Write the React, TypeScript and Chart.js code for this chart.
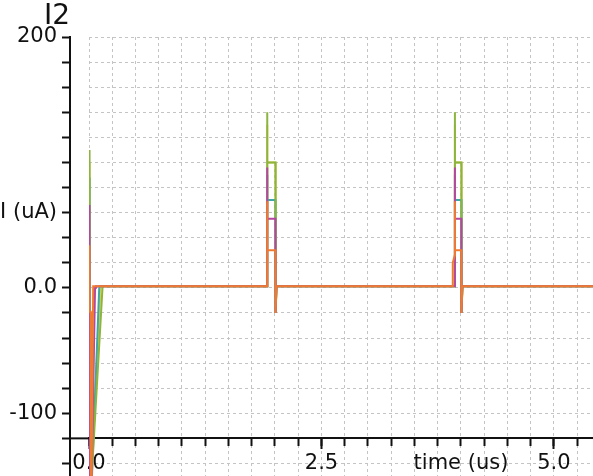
import React, { useEffect, useRef } from 'react';
import { Chart, registerables } from 'chart.js';

Chart.register(...registerables);

const FONT = "'DejaVu Sans', Verdana, sans-serif";

// time in us, current in uA
const orangeTime = [0, 0.004, 0.018, 0.021, 0.045, 1.917, 1.917, 1.917, 2.005, 2.006, 2.016, 3.911, 3.912, 3.933, 3.935, 3.935, 4.004, 4.005, 4.015, 5.42];
const orangeCurrent = [34, -19, -19, -220, 1.3, 1.3, 69, 30, 30, -20, 1.3, 1.3, 20, 26, 69, 30, 30, -20, 1.3, 1.3];

const magentaTime = [0, 0.005, 0.065, 0.075, 1.917, 1.917, 1.917, 2.005, 2.006, 2.016, 3.935, 3.935, 3.935, 4.004, 4.005, 4.015, 5.42];
const magentaCurrent = [66, -250, 0, 1.3, 1.3, 96, 55, 55, -20, 1.3, 1.3, 96, 55, 55, -20, 1.3, 1.3];

const greenTime = [0, 0.006, 0.145, 0.155, 1.917, 1.917, 1.917, 2.006, 2.007, 2.017, 3.935, 3.935, 3.935, 4.005, 4.006, 4.016, 5.42];
const greenCurrent = [110, -180, 0, 1.3, 1.3, 140, 100, 100, -20, 1.3, 1.3, 140, 100, 100, -20, 1.3, 1.3];

const tealTime = [0, 0.006, 0.11, 0.12, 1.917, 1.917, 1.917, 2.005, 2.006, 2.016, 3.935, 3.935, 3.935, 4.005, 4.006, 4.016, 5.42];
const tealCurrent = [88, -200, 0, 1.3, 1.3, 90, 70, 70, -20, 1.3, 1.3, 90, 70, 70, -20, 1.3, 1.3];

const yellowTime = [0, 0.006, 0.125, 0.135, 1.917, 1.917, 1.917, 2.005, 2.006, 2.016, 3.935, 3.935, 3.935, 4.005, 4.006, 4.016, 5.42];
const yellowCurrent = [100, -170, 0, 1.3, 1.3, 130, 100, 100, -20, 1.3, 1.3, 130, 100, 100, -20, 1.3, 1.3];

// axis ranges and labels
const xMin = 0;
const xMax = 5.42;
const yMin = -150;
const yMax = 200;
const xAxisAt = -120;
const yLabelValues = [200, 0, -100, 60];
const yLabelTexts = ['200', '0.0', '-100', 'I (uA)'];
const xLabelValues = [0, 2.5, 5.0];
const xLabelTexts = ['0.0', '2.5', '5.0'];
const xTitleValue = 4.0;
const xTitleText = 'time (us)';
const chartTitle = 'I2';

const pick = (v: number, values: number[], texts: string[]) => {
  for (let i = 0; i < values.length; i++) {
    if (Math.abs(v - values[i]) < 1e-6) return texts[i];
  }
  return '';
};

const zeroPad = (s: any) => {
  s.paddingLeft = 0;
  s.paddingRight = 0;
  s.paddingTop = 0;
  s.paddingBottom = 0;
};

const toPoints = (t: number[], v: number[]) => t.map((x, i) => ({ x, y: v[i] }));

const GRID = '#c4c4c4';
const BLACK = '#111111';

const decorPlugin = {
  id: 'decor',
  afterDraw(chart: any) {
    const ctx = chart.ctx;
    const yAxis = chart.scales.yAxis;
    const y = chart.scales.y;
    const area = chart.chartArea;
    ctx.save();
    // extension of the time axis line to the current axis
    const py = y.getPixelForValue(xAxisAt);
    ctx.strokeStyle = BLACK;
    ctx.lineWidth = 2;
    ctx.beginPath();
    ctx.moveTo(yAxis.right, py);
    ctx.lineTo(area.left, py);
    ctx.stroke();
    // signal name
    ctx.fillStyle = BLACK;
    ctx.font = `28px ${FONT}`;
    ctx.textAlign = 'right';
    ctx.textBaseline = 'middle';
    ctx.fillText(chartTitle, yAxis.right, area.top - 20);
    ctx.restore();
  },
};

export default function App() {
  const ref = useRef<HTMLCanvasElement | null>(null);

  useEffect(() => {
    document.body.style.margin = '0';
    const canvas = ref.current;
    if (!canvas) return;
    const mk = (label: string, color: string, t: number[], v: number[]) => ({
      label,
      data: toPoints(t, v),
      borderColor: color,
      backgroundColor: color,
      borderWidth: 2,
      pointRadius: 0,
      tension: 0,
      fill: false,
    });
    const chart = new Chart(canvas, {
      type: 'line',
      data: {
        datasets: [
          mk('orange', '#ef7b33', orangeTime, orangeCurrent),
          mk('magenta', '#b4479f', magentaTime, magentaCurrent),
          mk('green', '#8cb43e', greenTime, greenCurrent),
          mk('teal', '#3fa8a6', tealTime, tealCurrent),
          mk('yellow', '#d4d048', yellowTime, yellowCurrent),
        ] as any,
      },
      options: {
        responsive: false,
        animation: false,
        events: [],
        layout: { padding: { left: 0, top: 37, right: 0, bottom: 0 } },
        plugins: {
          legend: { display: false },
          tooltip: { enabled: false },
          title: { display: false },
        },
        scales: {
          x: {
            type: 'linear',
            axis: 'x',
            min: xMin,
            max: xMax,
            position: { y: xAxisAt } as any,
            grid: {
              display: true,
              color: GRID,
              lineWidth: 1,
              drawOnChartArea: true,
              drawTicks: true,
              tickLength: 7,
              tickColor: BLACK,
              tickWidth: 2,
            },
            border: { display: true, color: BLACK, width: 2, dash: [3, 3] },
            ticks: {
              stepSize: 0.25,
              includeBounds: false,
              autoSkip: false,
              maxRotation: 0,
              minRotation: 0,
              padding: 5.4,
              color: BLACK,
              font: { family: FONT, size: 21 },
              callback: (v: any) => pick(Number(v), [xTitleValue], [xTitleText]),
            },
            afterFit: zeroPad,
          },
          xMajor: {
            type: 'linear',
            axis: 'x',
            min: xMin,
            max: xMax,
            position: { y: xAxisAt } as any,
            grid: {
              display: true,
              drawOnChartArea: false,
              drawTicks: true,
              tickLength: 11,
              tickColor: BLACK,
              tickWidth: 2,
            },
            border: { display: false },
            ticks: {
              stepSize: 2.5,
              includeBounds: false,
              autoSkip: false,
              maxRotation: 0,
              minRotation: 0,
              padding: 1.4,
              color: BLACK,
              font: { family: FONT, size: 21 },
              callback: (v: any) => pick(Number(v), xLabelValues, xLabelTexts),
            },
            afterFit: zeroPad,
          },
          y: {
            type: 'linear',
            axis: 'y',
            position: 'left',
            weight: 0,
            min: yMin,
            max: yMax,
            grid: {
              display: true,
              color: GRID,
              lineWidth: 1,
              drawOnChartArea: true,
              drawTicks: false,
            },
            border: { display: false, dash: [3, 3] },
            ticks: { display: false, stepSize: 20, includeBounds: false, autoSkip: false },
            afterFit: (s: any) => {
              zeroPad(s);
              s.width = 19;
            },
          },
          yAxis: {
            type: 'linear',
            axis: 'y',
            position: 'left',
            weight: 1,
            min: yMin,
            max: yMax,
            grid: {
              display: true,
              drawOnChartArea: false,
              drawTicks: true,
              tickLength: 8,
              tickColor: BLACK,
              tickWidth: 2,
            },
            border: { display: true, color: BLACK, width: 2 },
            ticks: {
              stepSize: 20,
              includeBounds: false,
              autoSkip: false,
              padding: 5,
              color: BLACK,
              font: { family: FONT, size: 21 },
              callback: (v: any) => pick(Number(v), yLabelValues, yLabelTexts),
            },
            afterFit: (s: any) => {
              zeroPad(s);
              s.width = 70;
            },
          },
        } as any,
      },
      plugins: [decorPlugin as any],
    });
    return () => chart.destroy();
  }, []);

  return (
    <div style={{ width: 593, height: 476 }}>
      <canvas ref={ref} width={593} height={476} style={{ display: 'block' }} />
    </div>
  );
}
